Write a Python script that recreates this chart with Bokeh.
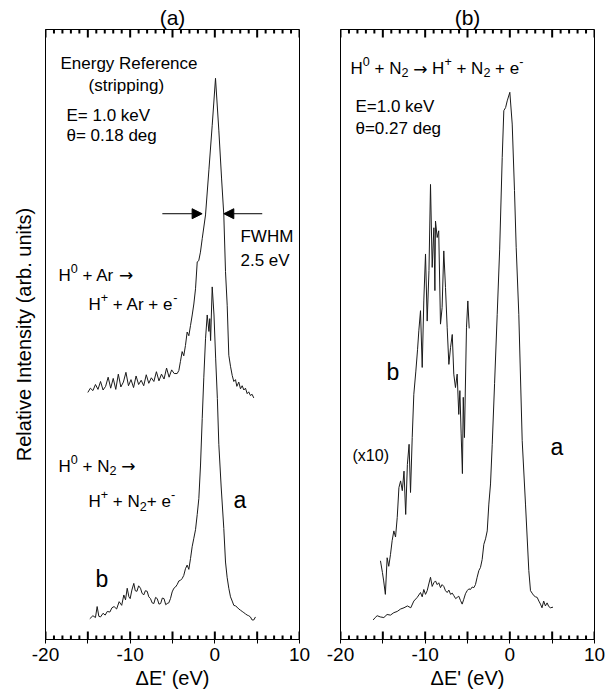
from bokeh.plotting import figure
from bokeh.layouts import row
from bokeh.models import Range1d, FixedTicker, Label, Arrow, NormalHead
from bokeh.embed import file_html
from bokeh.resources import INLINE

FONT = "Liberation Sans"

# ---- data (ΔE' in eV, intensity in arbitrary units) ----
# Panel (a): energy reference, H0 + Ar -> H+ + Ar + e-
ar_x = [-15.0, -14.7, -14.4, -14.1, -13.8, -13.5, -13.2, -12.9, -12.6, -12.3, -12.0, -11.7, -11.4, -11.1,
        -10.8, -10.5, -10.2, -9.9, -9.6, -9.3, -9.0, -8.7, -8.4, -8.1, -7.8, -7.5, -7.2, -6.9, -6.6, -6.3,
        -6.0, -5.7, -5.4, -5.1, -4.8, -4.45, -4.25, -4.06, -3.86, -3.67, -3.47, -3.27, -3.07, -2.87, -2.67,
        -2.48, -2.28, -2.08, -1.9, -1.7, -1.49, -1.1, -0.7, -0.31, 0.08, 0.47, 0.8, 1.06, 1.26, 1.46, 1.65,
        1.85, 2.05, 2.24, 2.44, 2.6, 2.83, 3.03, 3.23, 3.43, 3.62, 3.82, 4.0, 4.2, 4.4, 4.6]
ar_y = [40.5, 41.2, 40.8, 41.8, 41.0, 42.3, 40.9, 41.5, 43.0, 41.2, 42.8, 41.0, 43.5, 41.4,
        42.2, 43.8, 41.6, 42.6, 41.3, 43.2, 41.8, 42.5, 41.6, 43.4, 42.0, 42.9, 42.3, 43.9, 42.4, 43.5,
        42.7, 44.5, 43.0, 44.2, 43.6, 43.6, 44.1, 45.6, 47.2, 46.5, 48.2, 50.4, 49.8, 51.5, 53.2,
        55.0, 57.5, 61.9, 62.1, 63.5, 65.7, 69.6, 77.0, 84.3, 92.0, 83.5, 75.5, 69.6, 60.3, 54.8, 46.6,
        44.8, 43.3, 42.3, 42.6, 41.5, 42.2, 41.1, 41.6, 40.9, 41.2, 40.3, 40.6, 40.0, 40.2, 39.6]

# Panel (a): H0 + N2 -> H+ + N2 + e-
n2a_x = [-14.77, -14.4, -14.1, -13.9, -13.7, -13.5, -13.2, -12.95, -12.7, -12.4, -12.15, -11.9, -11.6,
         -11.3, -11.0, -10.75, -10.55, -10.35, -10.15, -10.0, -9.8, -9.57, -9.4, -9.2, -9.0, -8.78, -8.6,
         -8.4, -8.2, -7.99, -7.8, -7.6, -7.4, -7.2, -7.0, -6.8, -6.6, -6.4, -6.2, -6.0, -5.8, -5.63, -5.44,
         -5.24, -5.04, -4.84, -4.65, -4.45, -4.25, -4.06, -3.86, -3.67, -3.47, -3.27, -3.07, -2.87, -2.68,
         -2.48, -2.28, -2.08, -1.89, -1.69, -1.49, -1.3, -1.1, -0.9, -0.7, -0.6, -0.5, -0.31, -0.1, 0.1,
         0.3, 0.47, 0.75, 1.06, 1.26, 1.45, 1.65, 1.85, 2.05, 2.24, 2.45, 2.63, 2.83, 3.03, 3.23, 3.43,
         3.62, 3.82, 4.0, 4.2, 4.4, 4.6, 4.8]
n2a_y = [3.4, 3.9, 3.6, 5.4, 3.8, 3.7, 4.3, 4.0, 4.6, 4.5, 5.2, 5.4, 5.0,
         6.2, 5.6, 7.3, 6.5, 8.4, 7.0, 6.7, 8.1, 9.2, 8.0, 7.9, 8.8, 8.4, 7.6,
         7.3, 8.0, 7.9, 7.0, 6.7, 6.0, 5.9, 6.9, 6.7, 5.8, 5.9, 6.8, 6.7, 5.7, 5.9, 6.0,
         6.7, 7.8, 8.4, 8.6, 9.0, 9.6, 9.7, 10.0, 10.5, 11.6, 12.2, 11.5, 13.3, 15.2,
         16.6, 18.0, 20.5, 23.1, 28.6, 36.2, 43.0, 49.3, 53.2, 50.5, 52.6, 49.0, 57.8, 53.2, 46.0,
         39.5, 32.0, 25.0, 18.2, 12.7, 10.2, 8.4, 7.0, 6.3, 5.6, 5.5, 5.3, 5.0, 4.8, 4.6, 4.4,
         4.2, 4.0, 3.9, 3.7, 3.2, 3.2, 3.7]

# Panel (b): curve a
nb_x = [-16.14, -15.9, -15.67, -15.3, -14.88, -14.5, -14.1, -13.7, -13.3, -12.9, -12.5, -12.1, -11.7,
        -11.34, -10.94, -10.55, -10.35, -10.16, -9.96, -9.76, -9.57, -9.37, -9.17, -8.98, -8.78, -8.58,
        -8.39, -8.19, -8.0, -7.8, -7.6, -7.4, -7.2, -7.0, -6.8, -6.62, -6.4, -6.22, -6.03, -5.83, -5.63,
        -5.44, -5.24, -5.04, -4.84, -4.65, -4.45, -4.25, -4.06, -3.86, -3.66, -3.47, -3.27, -3.07, -2.87,
        -2.67, -2.48, -2.28, -2.08, -1.8, -1.49, -1.2, -0.9, -0.71, -0.5, -0.31, 0.0, 0.28, 0.55, 0.75,
        1.06, 1.46, 1.85, 2.24, 2.44, 2.63, 2.83, 3.03, 3.23, 3.43, 3.62, 3.8, 4.0, 4.2, 4.4, 4.6, 4.8, 5.1]
nb_y = [3.2, 3.6, 3.9, 3.7, 3.6, 4.1, 4.0, 4.4, 4.6, 5.0, 5.2, 5.5, 5.2,
        6.3, 6.9, 7.7, 7.0, 8.2, 7.4, 8.0, 9.1, 10.2, 8.7, 9.3, 9.6, 9.0,
        9.3, 8.5, 9.0, 8.7, 8.0, 7.7, 8.1, 7.4, 7.6, 7.2, 6.7, 6.9, 7.1, 6.4, 5.8,
        6.6, 7.5, 8.0, 8.3, 8.2, 8.6, 8.5, 9.0, 10.2, 11.3, 11.8, 13.1, 15.6, 16.5,
        17.8, 22.2, 25.5, 32.0, 42.0, 53.3, 64.0, 79.0, 86.7, 87.2, 88.3, 89.7, 84.5, 73.6, 64.3,
        53.3, 32.6, 22.2, 11.3, 8.0, 7.6, 7.2, 7.0, 6.9, 6.3, 5.8, 5.2, 6.3, 5.5, 6.0, 5.4, 5.2, 5.3]

# Panel (b): curve b (x10)
nbx10_x = [-15.28, -15.05, -14.9, -14.7, -14.49, -14.3, -14.1, -13.9, -13.7, -13.5, -13.3, -13.1, -12.9,
           -12.7, -12.5, -12.3, -12.1, -11.9, -11.73, -11.53, -11.34, -11.1, -10.9, -10.75, -10.55,
           -10.35, -10.16, -9.96, -9.76, -9.55, -9.37, -9.17, -8.97, -8.85, -8.78, -8.58, -8.4, -8.19,
           -8.0, -7.8, -7.6, -7.4, -7.2, -7.0, -6.8, -6.62, -6.42, -6.22, -6.03, -5.9, -5.75, -5.6,
           -5.5, -5.36, -5.12, -4.96, -4.8]
nbx10_y = [12.9, 11.0, 9.6, 7.4, 13.4, 12.0, 13.9, 16.2, 17.8, 16.8, 20.0, 24.9, 26.0,
           24.4, 27.6, 20.5, 28.7, 32.0, 24.1, 33.1, 40.2, 44.0, 47.5, 50.6, 53.9,
           44.6, 55.5, 63.2, 52.2, 60.5, 74.6, 61.0, 67.5, 57.2, 68.6, 65.9, 67.0, 51.7,
           54.4, 63.7, 57.7, 51.1, 45.1, 47.9, 50.0, 43.5, 41.3, 43.5, 36.9, 40.8, 33.7, 27.2,
           39.7, 33.1, 51.1, 55.5, 51.0]

x_major = [-20, -15, -10, -5, 0, 5, 10]
x_minor = [t for t in range(-20, 11) if t % 5 != 0]
x_labels = {-20: "-20", -15: "", -10: "-10", -5: "", 0: "0", 5: "", 10: "10"}
Y_LO, Y_HI = 0, 100
FRAME_H = 610
PX = (Y_HI - Y_LO) / FRAME_H   # data units per screen pixel (vertical)

# approximate Arial/Liberation Sans advance widths (em) for composing super/subscripts
CHAR_W = {"H": .722, "A": .667, "r": .333, "N": .722, "e": .556, " ": .278, "+": .584,
          "0": .556, "2": .556, "-": .333, "→": 0.838}


def make_panel(title, ylabel, mb_left, mb_right):
    p = figure(frame_width=254, frame_height=FRAME_H, x_range=Range1d(-20, 10),
               y_range=Range1d(Y_LO, Y_HI), output_backend="svg", toolbar_location=None,
               min_border_left=mb_left, min_border_right=mb_right, min_border_top=29,
               min_border_bottom=10, background_fill_color="white", border_fill_color="white")
    p.grid.visible = False
    p.outline_line_color = "black"
    p.title.text = title
    p.title.align = "center"
    p.title.text_font = FONT
    p.title.text_font_size = "21px"
    p.title.text_font_style = "normal"
    p.title.text_color = "black"
    p.title.standoff = 2

    xa = p.xaxis[0]
    xa.ticker = FixedTicker(ticks=x_major, minor_ticks=x_minor)
    xa.major_label_overrides = x_labels
    xa.major_tick_in = 0
    xa.major_tick_out = 4
    xa.major_tick_line_color = "black"
    xa.minor_tick_in = 0
    xa.minor_tick_out = 0
    xa.major_label_standoff = 4
    xa.major_label_text_font = FONT
    xa.major_label_text_font_size = "19px"
    xa.major_label_text_color = "black"
    xa.axis_label = "ΔE' (eV)"
    xa.axis_label_text_font = FONT
    xa.axis_label_text_font_size = "20px"
    xa.axis_label_text_font_style = "normal"
    xa.axis_label_text_color = "black"
    xa.axis_label_standoff = 3

    ya = p.yaxis[0]
    ya.ticker = FixedTicker(ticks=[])
    ya.major_label_standoff = 0
    if ylabel:
        ya.axis_label = ylabel
        ya.axis_label_text_font = FONT
        ya.axis_label_text_font_size = "20px"
        ya.axis_label_text_font_style = "normal"
        ya.axis_label_text_color = "black"
        ya.axis_label_standoff = 11

    # inward ticks along the bottom and top edges of the frame
    maj_len, min_len = 8 * PX, 4 * PX
    p.segment(x0=x_major, y0=[Y_LO] * len(x_major), x1=x_major, y1=[Y_LO + maj_len] * len(x_major),
              line_color="black", line_width=2)
    p.segment(x0=x_minor, y0=[Y_LO] * len(x_minor), x1=x_minor, y1=[Y_LO + min_len] * len(x_minor),
              line_color="black", line_width=2)
    p.segment(x0=x_major, y0=[Y_HI] * len(x_major), x1=x_major, y1=[Y_HI - maj_len] * len(x_major),
              line_color="black", line_width=2)
    p.segment(x0=x_minor, y0=[Y_HI] * len(x_minor), x1=x_minor, y1=[Y_HI - min_len] * len(x_minor),
              line_color="black", line_width=2)
    return p


def lab(p, x, y, text, size=17):
    p.add_layout(Label(x=x, y=y, text=text, text_font=FONT, text_font_size=f"{size}px",
                       text_baseline="middle", text_align="left", text_color="black"))


def rich(p, x, y, pieces, size=17):
    off = 0.0
    for txt, kind in pieces:
        if kind == "sup":
            fs, dy = size * 0.74, size * 0.42
        elif kind == "sub":
            fs, dy = size * 0.74, -size * 0.26
        else:
            fs, dy = size, 0.0
        lead = len(txt) - len(txt.lstrip(" "))
        core = txt.strip(" ")
        off += lead * CHAR_W[" "] * fs
        if core:
            font = "DejaVu Sans" if core == "→" else FONT
            p.add_layout(Label(x=x, y=y, x_offset=off, y_offset=dy, text=core, text_font=font,
                               text_font_size=f"{fs:.1f}px", text_baseline="middle",
                               text_align="left", text_color="black"))
        off += sum(CHAR_W.get(c, 0.556) for c in txt.lstrip(" ")) * fs


# ---- panel (a) ----
pa = make_panel("(a)", "Relative Intensity (arb. units)", 45, 20)
pa.line(ar_x, ar_y, line_color="#1a1a1a", line_width=1)
pa.line(n2a_x, n2a_y, line_color="#1a1a1a", line_width=1)

lab(pa, -18.23, 94.4, "Energy Reference")
lab(pa, -14.92, 90.8, "(stripping)")
lab(pa, -17.52, 85.9, "E= 1.0 keV")
lab(pa, -17.52, 82.6, "θ= 0.18 deg")
lab(pa, 3.03, 66.1, "FWHM")
lab(pa, 3.03, 62.1, "2.5 eV")
rich(pa, -18.46, 59.7, [("H", "n"), ("0", "sup"), (" + Ar", "n"), (" →", "arrow")])
rich(pa, -14.92, 54.9, [("H", "n"), ("+", "sup"), (" + Ar + e", "n"), ("-", "sup")])
rich(pa, -18.46, 28.4, [("H", "n"), ("0", "sup"), (" + N", "n"), ("2", "sub"), (" →", "arrow")])
rich(pa, -14.92, 22.6, [("H", "n"), ("+", "sup"), (" + N", "n"), ("2", "sub"), ("+ e", "n"), ("-", "sup")])
lab(pa, 2.2, 22.8, "a", 23)
lab(pa, -14.1, 10.0, "b", 23)

pa.add_layout(Arrow(end=NormalHead(size=10, fill_color="black", line_color="black", line_width=1),
                    x_start=-6.2, y_start=69.8, x_end=-1.5, y_end=69.8, line_width=1, line_color="black"))
pa.add_layout(Arrow(end=NormalHead(size=10, fill_color="black", line_color="black", line_width=1),
                    x_start=5.6, y_start=69.8, x_end=1.06, y_end=69.8, line_width=1, line_color="black"))

# ---- panel (b) ----
pb = make_panel("(b)", None, 21, 14)
pb.line(nb_x, nb_y, line_color="#1a1a1a", line_width=1)
pb.line(nbx10_x, nbx10_y, line_color="#1a1a1a", line_width=1)

rich(pb, -18.82, 93.6, [("H", "n"), ("0", "sup"), (" + N", "n"), ("2", "sub"), (" →", "arrow"), (" H", "n"),
                        ("+", "sup"), (" + N", "n"), ("2", "sub"), (" + e", "n"), ("-", "sup")])
lab(pb, -18.23, 87.4, "E=1.0 keV")
lab(pb, -18.23, 83.8, "θ=0.27 deg")
lab(pb, -14.57, 43.9, "b", 23)
lab(pb, -18.58, 30.2, "(x10)", 16)
lab(pb, 4.8, 31.6, "a", 23)

layout = row(pa, pb)
open("out.html", "w").write(file_html(layout, INLINE))
